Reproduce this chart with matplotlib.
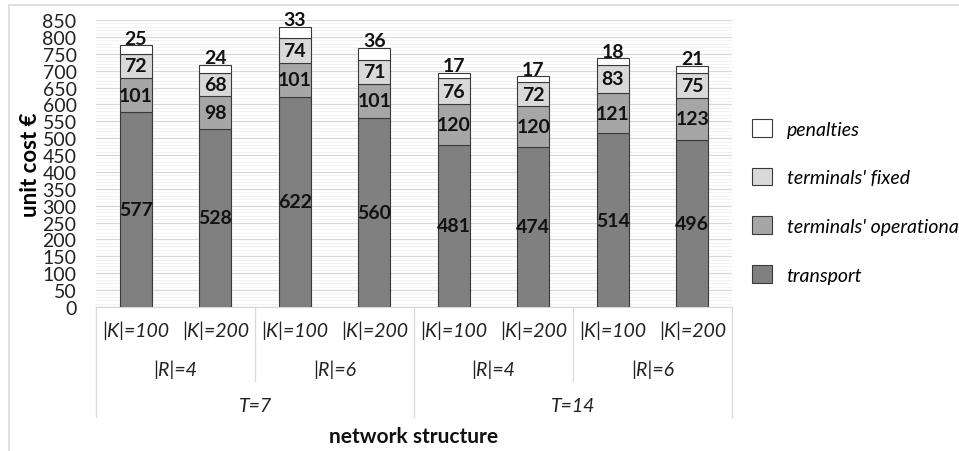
import matplotlib.pyplot as plt
from matplotlib.patches import Rectangle
from matplotlib.lines import Line2D
from matplotlib.transforms import blended_transform_factory
from matplotlib.ticker import MultipleLocator

plt.rcParams['font.family'] = ['Lato', 'DejaVu Sans']

# Cost components per network structure
k_labels = ['|K|=100', '|K|=200'] * 4
r_labels = ['|R|=4', '|R|=6', '|R|=4', '|R|=6']
t_labels = ['T=7', 'T=14']
transport = [577, 528, 622, 560, 481, 474, 514, 496]
operational = [101, 98, 101, 101, 120, 120, 121, 123]
fixed = [72, 68, 74, 71, 76, 72, 83, 75]
penalties = [25, 24, 33, 36, 17, 17, 18, 21]

series = [
    ("transport", transport, "#808080"),
    ("terminals' operational", operational, "#a6a6a6"),
    ("terminals' fixed", fixed, "#d9d9d9"),
    ("penalties", penalties, "#ffffff"),
]

W, H = 959, 452
fig = plt.figure(figsize=(W / 100, H / 100), dpi=100)
ax = fig.add_axes([96 / W, 1 - 308 / H, (732 - 96) / W, (308 - 21) / H])

x = list(range(len(transport)))
bottom = [0] * len(x)
handles = {}
for name, vals, color in series:
    bars = ax.bar(x, vals, 0.40, bottom=bottom, color=color,
                  edgecolor='#3a3a3a', linewidth=0.8, zorder=3, label=name)
    handles[name] = bars
    for i, v in enumerate(vals):
        if name == 'penalties':
            ax.annotate(str(v), (x[i], bottom[i] + v), xytext=(0, -1),
                        textcoords='offset points', ha='center', va='bottom',
                        fontsize=14, fontweight='bold', color='#111111')
        else:
            ax.text(x[i], bottom[i] + v / 2, str(v), ha='center', va='center',
                    fontsize=14, fontweight='bold', color='#111111', zorder=4)
    bottom = [b + v for b, v in zip(bottom, vals)]

ax.set_xlim(-0.5, 7.5)
ax.set_ylim(0, 850)
ax.yaxis.set_major_locator(MultipleLocator(50))
ax.yaxis.set_minor_locator(MultipleLocator(10))
ax.grid(axis='y', which='major', color='#d9d9d9', linewidth=0.9, zorder=0)
ax.grid(axis='y', which='minor', color='#f2f2f2', linewidth=0.7, zorder=0)
for s in ax.spines.values():
    s.set_visible(False)
ax.tick_params(axis='y', length=0, labelsize=14, pad=14, colors='#222222', which='both')
ax.set_xticks([])
ax.set_ylabel('unit cost €', fontsize=16, fontweight='bold')
ax.yaxis.set_label_coords(-0.087, 0.5)

# Hierarchical category axis
tr = blended_transform_factory(ax.transData, fig.transFigure)
def fy(py):
    return 1 - py / H

for i, lab in enumerate(k_labels):
    ax.text(i, fy(331), lab, transform=tr, ha='center', va='center',
            fontsize=14, style='italic', color='#222222')
for j, lab in enumerate(r_labels):
    ax.text(2 * j + 0.5, fy(370), lab, transform=tr, ha='center', va='center',
            fontsize=14, style='italic', color='#222222')
for j, lab in enumerate(t_labels):
    ax.text(4 * j + 1.5, fy(407), lab, transform=tr, ha='center', va='center',
            fontsize=14, style='italic', color='#222222')

sep_color = '#d9d9d9'
for xs, y_end in [(-0.5, 418), (1.5, 382), (3.5, 418), (5.5, 382), (7.5, 418)]:
    ax.add_line(Line2D([xs, xs], [fy(308), fy(y_end)], transform=tr,
                       color=sep_color, linewidth=0.9, clip_on=False))
ax.add_line(Line2D([-0.5, 7.5], [fy(308), fy(308)], transform=tr,
                   color=sep_color, linewidth=0.9, clip_on=False))

fig.text(414 / W, fy(437), 'network structure', ha='center', va='center',
         fontsize=15, fontweight='bold', color='#111111')

# Outer chart frame
fig.patches.append(Rectangle((9 / W, -0.1), 1, fy(6) + 0.1, transform=fig.transFigure,
                             fill=False, edgecolor='#d9d9d9', linewidth=1.2))

order = ['penalties', "terminals' fixed", "terminals' operational", 'transport']
leg = fig.legend([handles[n] for n in order], order, loc='upper left',
                 bbox_to_anchor=(752 / W, fy(120)), frameon=False,
                 prop={'size': 14, 'style': 'italic'}, labelspacing=1.55,
                 handlelength=1.03, handleheight=1.03, handletextpad=0.75,
                 borderaxespad=0, borderpad=0)

fig.savefig('out.png', dpi=100)
